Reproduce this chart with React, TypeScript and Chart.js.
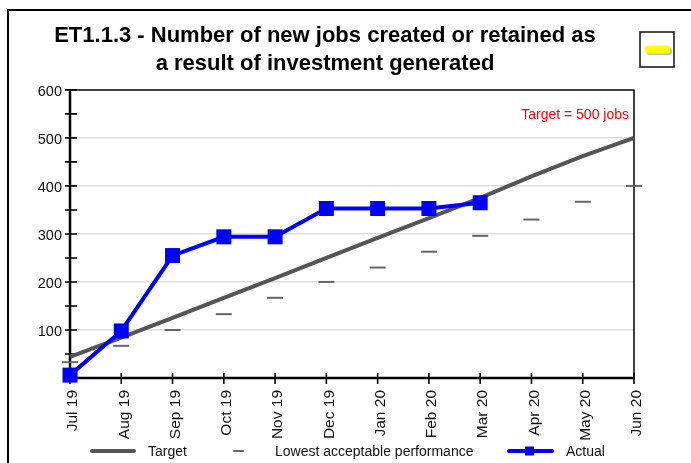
import React, { useEffect, useRef } from "react";
import { Chart, registerables } from "chart.js";

Chart.register(...registerables);

const titleLines = ["ET1.1.3 - Number of new jobs created or retained as", "a result of investment generated"];
const months = ["Jul 19", "Aug 19", "Sep 19", "Oct 19", "Nov 19", "Dec 19", "Jan 20", "Feb 20", "Mar 20", "Apr 20", "May 20", "Jun 20"];
const target = [44, 84, 125, 167, 208, 250, 292, 333, 375, 420, 462, 500];
const lowest = [33, 67, 100, 133, 167, 200, 230, 263, 296, 330, 367, 400];
const actual = [6, 98, 255, 294, 294, 353, 353, 353, 365, null, null, null];
const note = "Target = 500 jobs";
const FONT = "'Liberation Sans', Arial, sans-serif";

const decorations = {
  id: "decorations",
  beforeDatasetsDraw(chart: any) {
    const { ctx, chartArea: a, scales } = chart;
    const { x, y } = scales;
    ctx.save();
    ctx.strokeStyle = "#000";
    // outer frame
    ctx.lineWidth = 2;
    ctx.beginPath();
    ctx.moveTo(8, 463);
    ctx.lineTo(8, 10);
    ctx.lineTo(691, 10);
    ctx.stroke();
    // plot frame
    ctx.lineWidth = 1.5;
    ctx.beginPath();
    ctx.moveTo(a.left, a.top);
    ctx.lineTo(a.right, a.top);
    ctx.lineTo(a.right, a.bottom);
    ctx.stroke();
    ctx.lineWidth = 2.5;
    ctx.beginPath();
    ctx.moveTo(a.left, a.top - 1);
    ctx.lineTo(a.left, a.bottom);
    ctx.lineTo(a.right + 1, a.bottom);
    ctx.stroke();
    // crossing tick marks
    ctx.lineWidth = 1.6;
    ctx.beginPath();
    y.ticks.forEach((t: any) => {
      if (t.value === 0) return;
      const py = y.getPixelForValue(t.value);
      ctx.moveTo(a.left - 5, py);
      ctx.lineTo(a.left + 7, py);
    });
    months.forEach((_, i) => {
      const px = x.getPixelForValue(i);
      ctx.moveTo(px, a.bottom - 5);
      ctx.lineTo(px, a.bottom + 6);
    });
    ctx.stroke();
    ctx.restore();
  },
  afterDraw(chart: any) {
    const { ctx, data } = chart;
    ctx.save();
    // red note
    ctx.fillStyle = "#ff0000";
    ctx.font = `14px ${FONT}`;
    ctx.textAlign = "right";
    ctx.textBaseline = "middle";
    ctx.fillText(note, 629, 115);
    // legend
    const ly = 451;
    const [t, l, ac] = data.datasets;
    ctx.lineCap = "round";
    ctx.strokeStyle = t.borderColor;
    ctx.lineWidth = 4;
    ctx.beginPath();
    ctx.moveTo(92, ly);
    ctx.lineTo(134, ly);
    ctx.stroke();
    ctx.strokeStyle = l.pointBorderColor;
    ctx.lineWidth = 1.8;
    ctx.beginPath();
    ctx.moveTo(234, ly);
    ctx.lineTo(243, ly);
    ctx.stroke();
    ctx.strokeStyle = ac.borderColor;
    ctx.lineWidth = 4;
    ctx.beginPath();
    ctx.moveTo(509, ly);
    ctx.lineTo(552, ly);
    ctx.stroke();
    ctx.fillStyle = ac.borderColor;
    ctx.fillRect(525, ly - 4.5, 9, 9);
    ctx.fillStyle = "#111";
    ctx.font = `14px ${FONT}`;
    ctx.textAlign = "left";
    ctx.fillText(t.label, 148, ly + 1.5);
    ctx.fillText(l.label, 275, ly + 1.5);
    ctx.fillText(ac.label, 566, ly + 1.5);
    // yellow button
    ctx.lineCap = "butt";
    ctx.strokeStyle = "#111";
    ctx.lineWidth = 1.5;
    ctx.strokeRect(640, 32, 34, 35);
    ctx.fillStyle = "#bdbdbd";
    ctx.beginPath();
    ctx.roundRect(646, 47, 26, 8, 4);
    ctx.fill();
    ctx.fillStyle = "#ffff00";
    ctx.beginPath();
    ctx.roundRect(644.5, 45.5, 26, 8, 4);
    ctx.fill();
    ctx.restore();
  },
};

export default function App() {
  const ref = useRef<HTMLCanvasElement>(null);
  useEffect(() => {
    const chart = new Chart(ref.current!, {
      type: "line",
      data: {
        labels: months,
        datasets: [
          { label: "Target", data: target, borderColor: "#555555", borderWidth: 4, pointRadius: 0, order: 1, clip: false },
          {
            label: "Lowest acceptable performance", data: lowest, showLine: false, borderColor: "#555555",
            pointStyle: "line", pointRadius: 8, pointBorderColor: "#666666", pointBorderWidth: 2, order: 2, clip: false,
          },
          {
            label: "Actual", data: actual, borderColor: "#0000ff", borderWidth: 4, pointStyle: "rect", pointRadius: 10.6,
            pointBackgroundColor: "#0000ff", pointBorderColor: "#0000ff", pointBorderWidth: 0, order: 0, clip: false,
          },
        ],
      },
      options: {
        animation: false,
        responsive: false,
        layout: { padding: { left: 16, right: 57, top: 22, bottom: 0 } },
        plugins: {
          legend: { display: false },
          tooltip: { enabled: false },
          title: {
            display: true,
            text: titleLines,
            color: "#000",
            font: { family: FONT, size: 22, weight: "bold", lineHeight: 1.27 },
            padding: { top: 0, bottom: 12 },
          },
        },
        scales: {
          x: {
            type: "category",
            offset: false,
            grid: { display: false, drawTicks: false },
            border: { display: false },
            afterFit: (s: any) => { s.height = 85; },
            ticks: { autoSkip: false, minRotation: 90, maxRotation: 90, padding: 12, labelOffset: 3, color: "#111", font: { family: FONT, size: 15.5 } },
          },
          y: {
            min: 0,
            max: 600,
            grid: {
              drawTicks: false,
              lineWidth: 1.5,
              color: (c: any) => (c.tick.value > 0 && c.tick.value < 600 && c.tick.value % 100 === 0 ? "#dddddd" : "transparent"),
            },
            border: { display: false },
            afterFit: (s: any) => { s.width = 54; },
            ticks: {
              stepSize: 50,
              autoSkip: false,
              padding: 8,
              labelOffset: 2,
              color: "#111",
              font: { family: FONT, size: 14.5 },
              callback: (v: any) => (v > 0 && v % 100 === 0 ? String(v) : ""),
            },
          },
        },
      },
      plugins: [decorations],
    } as any);
    return () => chart.destroy();
  }, []);
  return (
    <div style={{ position: "absolute", left: 0, top: 0 }}>
      <canvas ref={ref} width={691} height={463} style={{ display: "block", background: "#fff" }} />
    </div>
  );
}
